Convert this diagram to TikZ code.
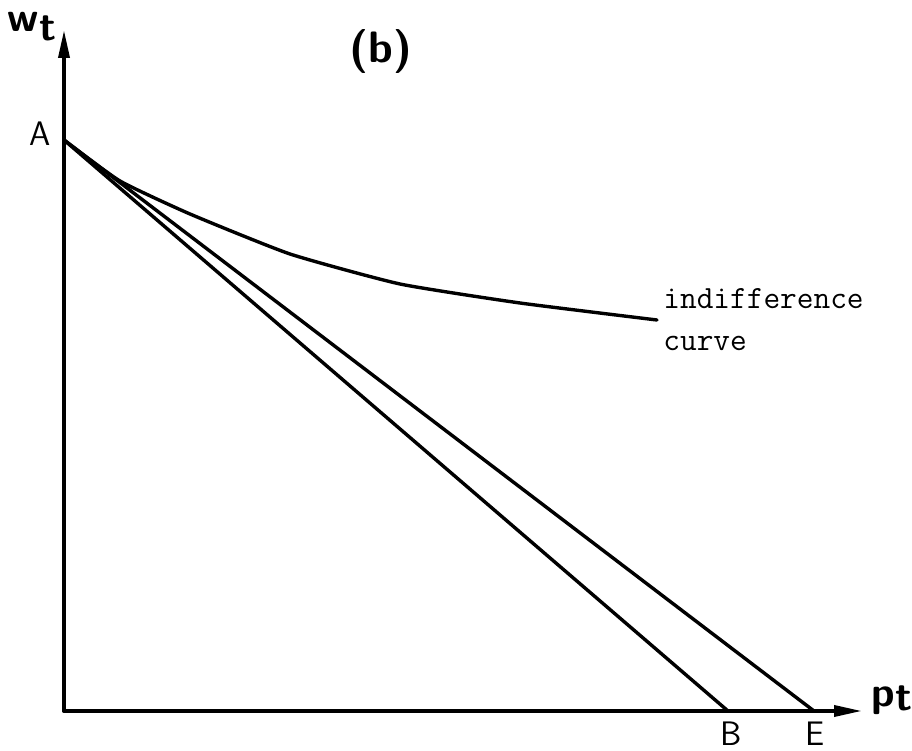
\documentclass[tikz,border=0pt]{standalone}
\usepackage{tikz}
\usetikzlibrary{arrows.meta,positioning}

\begin{document}
\begin{tikzpicture}[x=0.5pt,y=0.5pt,line cap=round,line join=round,
  axis/.style={line width=1.8pt,-{Triangle[length=14pt,width=5.5pt]}},
  budget/.style={line width=1.7pt},
  lbl/.style={font=\fontsize{17}{20}\sffamily,inner sep=0pt},
  vlbl/.style={font=\fontsize{21}{24}\bfseries\sffamily,inner sep=0pt},
  note/.style={font=\fontsize{16.2}{21}\ttfamily,align=left,inner sep=0pt}]
\path[use as bounding box] (0,0) rectangle (912,751);
\fill[white] (0,0) rectangle (912,751);
% axes
\coordinate (O) at (64,40);
\coordinate (ytip) at (64,721);
\coordinate (xtip) at (862,40);
\coordinate (A) at (64,611);
\coordinate (B) at (728,40);
\coordinate (E) at (814,40);
\draw[axis] (O) -- (ytip);
\draw[axis] (O) -- (xtip);
\node[vlbl] (wt) at (32,724) {w\raisebox{-4.5pt}{t}};
\node[vlbl] (pt) at (892,51) {p\raisebox{-2pt}{t}};
\node[font=\fontsize{22}{26}\bfseries\sffamily,inner sep=0pt] (title) at (381,699) {(b)};
% budget lines
\draw[budget] (A) -- (B);
\draw[budget] (A) -- (E);
% indifference curve
\coordinate (icend) at (657,431);
\draw[budget] plot[smooth,tension=0.3] coordinates
  {(64,611) (120,570) (190,537) (290,497) (400,467) (520,448) (657,431)};
\node[note,anchor=west] (iclab) at (663,431) {indifference\\curve};
\node[lbl] (la) at (40,617) {A};
\node[lbl] (lb) at (731,17) {B};
\node[lbl] (le) at (815,17) {E};
\end{tikzpicture}
\end{document}
